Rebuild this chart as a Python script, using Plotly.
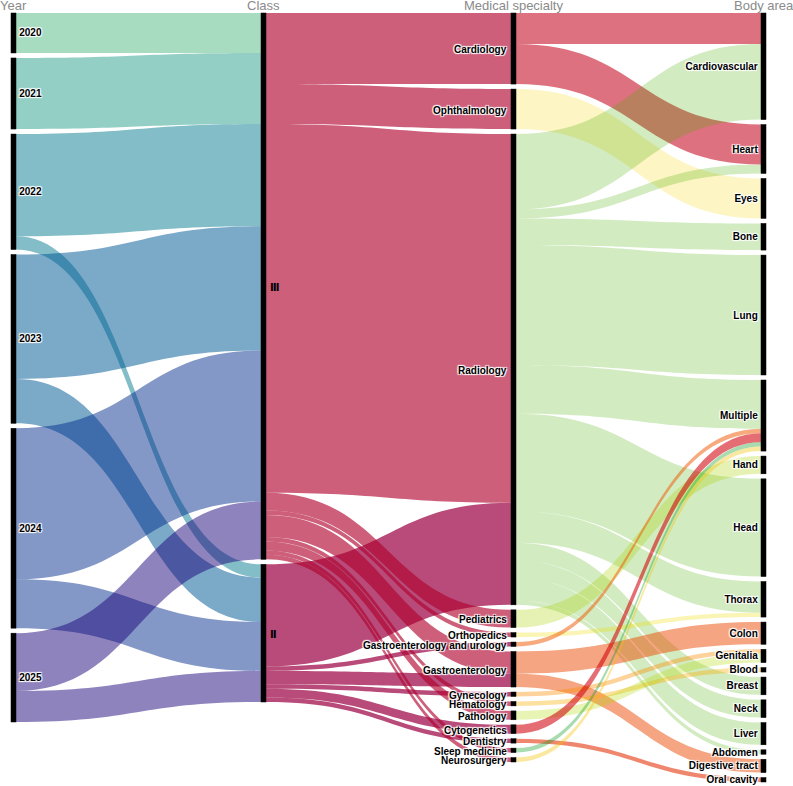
import plotly.graph_objects as go

# ---------------- data ----------------
years = ["2020", "2021", "2022", "2023", "2024", "2025"]
classes = ["Ⅲ", "Ⅱ"]
specialties = ["Cardiology", "Ophthalmology", "Radiology", "Pediatrics", "Orthopedics",
               "Gastroenterology and urology", "Gastroenterology", "Gynecology", "Hematology",
               "Pathology", "Cytogenetics", "Dentistry", "Sleep medicine", "Neurosurgery"]
body_areas = ["Cardiovascular", "Heart", "Eyes", "Bone", "Lung", "Multiple", "Hand", "Head",
              "Thorax", "Colon", "Genitalia", "Blood", "Breast", "Neck", "Liver", "Abdomen",
              "Digestive tract", "Oral cavity"]

# Year -> Class
year_to_III = [9, 16, 23, 28, 34, 13]
year_to_II = [0, 0, 3, 10, 11, 7]

# Class -> Medical specialty (same order as specialties)
class_III_to_specialty = [16, 9, 83, 4, 1, 0, 5, 0, 1, 2, 0, 0, 1, 1]
class_II_to_specialty = [0, 0, 23, 0, 0, 1, 3, 1, 0, 0, 2, 1, 0, 0]

# Medical specialty -> Body area
sb_source = ["Cardiology", "Cardiology", "Ophthalmology",
             "Radiology", "Radiology", "Radiology", "Radiology", "Radiology", "Radiology",
             "Radiology", "Radiology", "Radiology", "Radiology", "Radiology",
             "Pediatrics", "Orthopedics", "Gastroenterology and urology",
             "Gastroenterology", "Gastroenterology", "Gynecology", "Hematology", "Pathology",
             "Cytogenetics", "Dentistry", "Sleep medicine", "Neurosurgery"]
sb_target = ["Cardiovascular", "Heart", "Eyes",
             "Cardiovascular", "Heart", "Bone", "Lung", "Multiple", "Head",
             "Thorax", "Breast", "Neck", "Liver", "Abdomen",
             "Hand", "Thorax", "Multiple",
             "Colon", "Digestive tract", "Genitalia", "Blood", "Genitalia",
             "Multiple", "Oral cavity", "Multiple", "Multiple"]
sb_value = [7, 9, 9,
            17, 2, 6, 27, 11, 22, 7, 4, 4, 5, 1,
            4, 1, 1,
            5, 3, 1, 1, 2,
            2, 1, 1, 1]

# ---------------- styles ----------------
# apparent colours of each link group over white
year_colors = [(167, 220, 192), (147, 207, 196), (130, 189, 200), (123, 169, 200),
               (131, 152, 199), (143, 131, 189)]
class_colors = [(205, 95, 123), (184, 75, 121)]
specialty_colors = [(222, 113, 127), (253, 245, 195), (210, 235, 192), (230, 242, 180),
                    (250, 245, 180), (246, 170, 125), (245, 165, 130), (253, 210, 155),
                    (253, 225, 160), (232, 244, 180), (228, 110, 115), (238, 135, 110),
                    (168, 220, 176), (250, 232, 160)]


def rgba(obs):
    # most transparent colour that looks like `obs` over white (darkens overlaps)
    a = max(0.2, 1 - min(obs) / 255.0)
    c = [max(0, min(255, round((v - (1 - a) * 255) / a))) for v in obs]
    return "rgba(%d,%d,%d,%.3f)" % (c[0], c[1], c[2], a)


labels = years + classes + specialties + body_areas
idx = {lab: i for i, lab in enumerate(labels)}
columns = [years, classes, specialties, body_areas]

src, tgt, val, col = [], [], [], []


def add(s, t, v, c):
    if v > 0:
        src.append(idx[s]); tgt.append(idx[t]); val.append(v); col.append(rgba(c))


for y, v3, v2, c in zip(years, year_to_III, year_to_II, year_colors):
    add(y, "Ⅲ", v3, c)
    add(y, "Ⅱ", v2, c)
for sp, v3, v2 in zip(specialties, class_III_to_specialty, class_II_to_specialty):
    add("Ⅲ", sp, v3, class_colors[0])
    add("Ⅱ", sp, v2, class_colors[1])
for s, t, v in zip(sb_source, sb_target, sb_value):
    add(s, t, v, specialty_colors[specialties.index(s)])

# node values
inflow = [0] * len(labels)
outflow = [0] * len(labels)
for s, t, v in zip(src, tgt, val):
    outflow[s] += v
    inflow[t] += v
node_val = [max(a, b) for a, b in zip(inflow, outflow)]

# layout geometry (nodes stacked from the top in each column, as in the reference)
WIDTH, HEIGHT = 793, 786
ML, MR, MT, MB = 11, 27, 13, 4
W = WIDTH - ML - MR
H = HEIGHT - MT - MB
PAD = 5
THICK = 5
ky = min((H - (len(c) - 1) * PAD) / sum(node_val[idx[n]] for n in c) for c in columns)
node_x, node_y = [0.0] * len(labels), [0.0] * len(labels)
col_x = []
for d, c in enumerate(columns):
    xc = (THICK / 2 + d * (W - THICK) / (len(columns) - 1)) / W
    col_x.append(xc)
    top = 0.0
    for n in c:
        h = node_val[idx[n]] * ky
        node_x[idx[n]] = xc
        node_y[idx[n]] = (top + h / 2) / H
        top += h + PAD

# labels drawn by the sankey itself: years and body areas; others as annotations
shown = [lab if (lab in years or lab in body_areas) else "" for lab in labels]

FONT = "Liberation Sans, Arial"
fig = go.Figure(go.Sankey(
    arrangement="fixed",
    domain=dict(x=[0, 1], y=[0, 1]),
    node=dict(label=shown, x=node_x, y=node_y, pad=PAD, thickness=THICK,
              color="black", line=dict(color="black", width=0.5),
              customdata=labels, hovertemplate="%{customdata}<extra></extra>"),
    link=dict(source=src, target=tgt, value=val, color=col),
    textfont=dict(family=FONT, size=10, color="black", weight="bold"),
))

# class labels (right of node)
for lab in classes:
    i = idx[lab]
    fig.add_annotation(text=lab, x=node_x[i] + THICK / 2 / W, y=1 - node_y[i],
                       xref="paper", yref="paper", xanchor="left", yanchor="middle",
                       xshift=2, yshift=-1, showarrow=False,
                       font=dict(family="DejaVu Sans", size=10, color="black",
                                 weight="bold"))
# medical specialty labels (left of node)
for lab in specialties:
    i = idx[lab]
    fig.add_annotation(text=lab, x=node_x[i] - THICK / 2 / W, y=1 - node_y[i],
                       xref="paper", yref="paper", xanchor="right", yanchor="middle",
                       xshift=-2, yshift=-1, showarrow=False,
                       font=dict(family=FONT, size=10, color="black", weight="bold",
                                 shadow="auto"))

titles = ["Year", "Class", "Medical specialty", "Body area"]
for t, xc in zip(titles, col_x):
    fig.add_annotation(text=t, x=xc, y=1, xref="paper", yref="paper",
                       xanchor="center", yanchor="bottom", yshift=-2, showarrow=False,
                       font=dict(family=FONT, size=13, color="#8a8a8a"))

fig.update_layout(width=WIDTH, height=HEIGHT,
                  margin=dict(l=ML, r=MR, t=MT, b=MB),
                  paper_bgcolor="white", plot_bgcolor="white")
fig.write_html("out.html")
